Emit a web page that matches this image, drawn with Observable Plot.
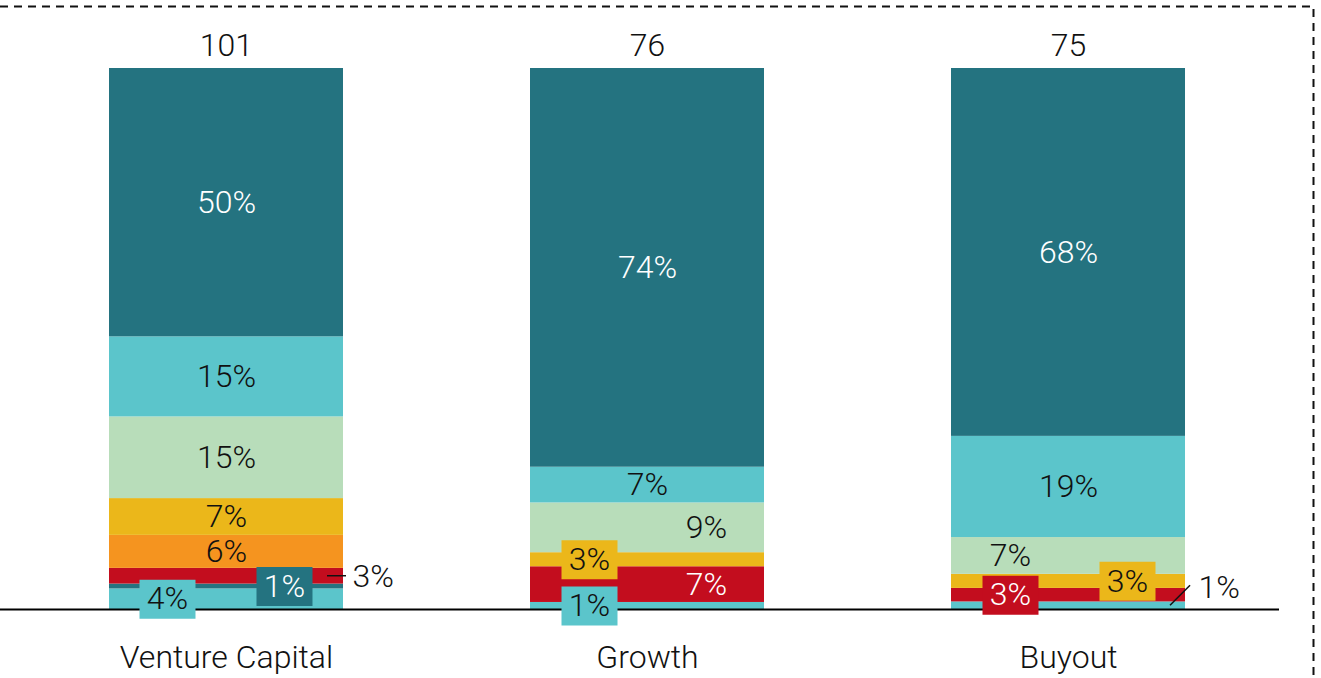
<!DOCTYPE html>
<html><head><meta charset="utf-8">
<script src="https://cdn.jsdelivr.net/npm/d3@7"></script>
<script src="https://cdn.jsdelivr.net/npm/@observablehq/plot@0.6"></script>
<style>
html,body{margin:0;padding:0;background:#fff;}
#chart{width:1321px;height:678px;overflow:hidden;}
</style></head><body><div id="chart"></div>
<script>
// ---- data ----
const categories = ["Venture Capital", "Growth", "Buyout"];
const totals = [101, 76, 75];
const series = ["Category 1", "Category 2", "Category 3", "Category 4", "Category 5", "Category 6", "Category 7", "Category 8"];
const ventureCapital = [3.8, 0.9, 2.9, 6.1, 6.8, 15.1, 14.8, 49.6];
const growth        = [1.3, 0,   6.6, 0,   2.6, 9.2,  6.6,  73.7];
const buyout        = [1.4, 0,   2.5, 0,   2.6, 6.8,  18.7, 68.0];
const colors = ["#5BC5CB", "#247380", "#C30D1E", "#F5941F", "#EBB71A", "#B8DDBA", "#5BC5CB", "#247380"];

// ---- label layout (style only) ----
const layout = {
  "0|0": {dx: -59, box: true},
  "0|1": {dx: 58, box: true},
  "0|2": {outside: true, dx: 126, dy: 1, leader: {from: -16, to: 3, rise: 0}},
  "1|0": {dx: -58, box: true},
  "1|2": {dx: 59},
  "1|4": {dx: -58, box: true},
  "1|5": {dx: 59},
  "2|0": {outside: true, dx: 130, dy: -18, leader: {from: -15, to: 5, rise: -20}},
  "2|2": {dx: -58, box: true},
  "2|4": {dx: 59, box: true},
  "2|5": {dx: -58}
};
const whiteText = new Set([1, 2, 7]);

const values = [ventureCapital, growth, buyout];
const rows = [];
categories.forEach((c, i) => {
  let cum = 0;
  values[i].forEach((v, j) => {
    if (v > 0) {
      rows.push({category: c, series: series[j], ci: i, si: j, value: v, y1: cum, y2: cum + v, mid: cum + v / 2, text: Math.round(v) + "%"});
    }
    cum += v;
  });
});
const tops = categories.map((c, i) => ({category: c, total: totals[i], top: d3.sum(values[i])}));

const FONT = "Roboto";
const FS = 32;
const boxSymbol = {draw(ctx) { ctx.rect(-28, -19.5, 56, 39); }};

const labelMarks = [];
const leaders = [];
rows.forEach(r => {
  const L = layout[r.ci + "|" + r.si] || {dx: 0};
  if (L.box) {
    labelMarks.push(Plot.dot([r], {x: "category", y: "mid", dx: L.dx, symbol: boxSymbol, fill: "series", stroke: null}));
  }
  const col = L.outside ? "#111" : (whiteText.has(r.si) ? "#fff" : "#111");
  labelMarks.push(Plot.text([r], {
    x: "category", y: "mid", text: "text", dx: L.dx || 0, dy: L.dy || 0,
    textAnchor: L.outside ? "start" : "middle",
    fill: col, fontSize: FS, fontFamily: FONT, fontWeight: 300
  }));
  if (L.leader) leaders.push({r, L});
});

const plot = Plot.plot({
  width: 1321, height: 678,
  marginTop: 0, marginLeft: 0, marginRight: 42, marginBottom: 69,
  x: {type: "band", domain: categories, range: [0, 1294], paddingInner: 0.4442, paddingOuter: 0.2589, align: 0.5, round: false, axis: null},
  y: {domain: [0, 100], range: [609, 68], axis: null},
  color: {domain: series, range: colors},
  style: {fontFamily: FONT, background: "#fff"},
  marks: [
    Plot.barY(rows, {x: "category", y1: "y1", y2: "y2", fill: "series"}),
    Plot.ruleY([0], {stroke: "#000", strokeWidth: 2}),
    ...labelMarks,
    Plot.text(tops, {x: "category", y: "top", text: "total", dy: -23, fill: "#111", fontSize: FS, fontFamily: FONT, fontWeight: 300}),
    Plot.text(categories, {x: d => d, frameAnchor: "bottom", dy: 58, fill: "#111", fontSize: FS, fontFamily: FONT, fontWeight: 300})
  ]
});
document.getElementById("chart").appendChild(plot);

// leader lines and dashed frame drawn with the plot's own scales
const xs = plot.scale("x"), ys = plot.scale("y");
const bw = xs.bandwidth;
const svg = d3.select(plot);
leaders.forEach(({r, L}) => {
  const right = xs.apply(r.category) + bw;
  const y = ys.apply(r.mid);
  svg.append("line")
    .attr("x1", right + L.leader.from).attr("y1", y)
    .attr("x2", right + L.leader.to).attr("y2", y + L.leader.rise)
    .attr("stroke", "#111").attr("stroke-width", 1.5);
});
const W = 1321, H = 678;
svg.append("path")
  .attr("d", `M0,6.5H${W - 7.5}V${H}`)
  .attr("fill", "none").attr("stroke", "#111").attr("stroke-width", 2)
  .attr("stroke-dasharray", "8,6");
</script></body></html>
